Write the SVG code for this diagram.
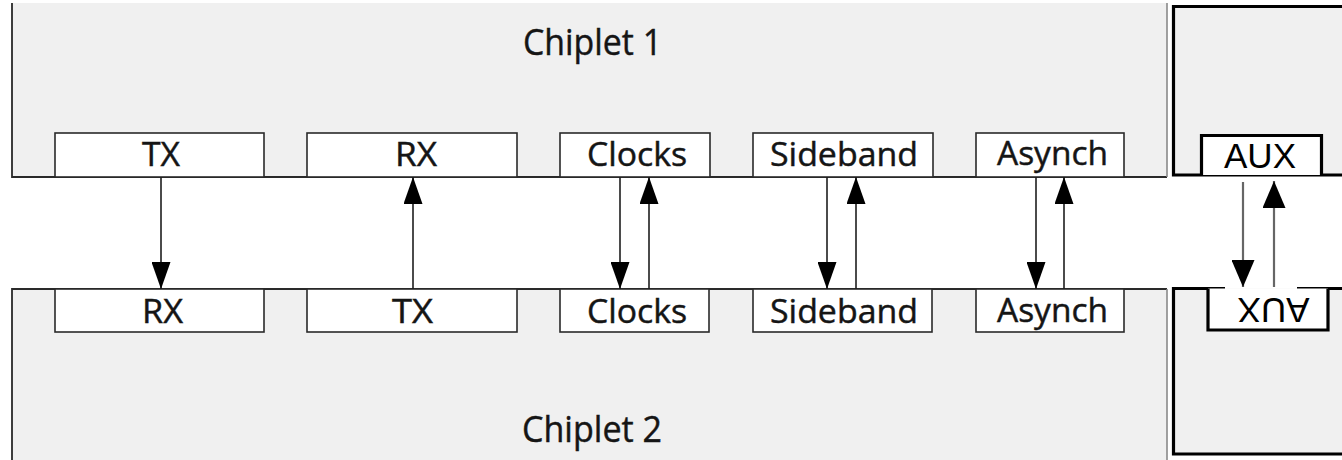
<svg xmlns="http://www.w3.org/2000/svg" width="1342" height="460" viewBox="0 0 1342 460">
  <style>
    .panel { fill: #f0f0f0; }
    .edge { fill: none; stroke: #2a2a2a; stroke-width: 1.8; }
    .seam { fill: none; stroke: #8a8a8a; stroke-width: 1.6; }
    .box { fill: #ffffff; stroke: #2a2a2a; stroke-width: 1.6; }
    .lbl { font-family: "Open Sans", "Noto Sans", sans-serif; font-size: 33px; fill: #151515; stroke: #151515; stroke-width: 0.45; text-anchor: middle; }
    .title { font-family: "Open Sans", "Noto Sans", sans-serif; font-size: 37px; fill: #151515; stroke: #151515; stroke-width: 0.45; text-anchor: middle; }
    .aux-panel { fill: #f0f0f0; }
    .heavy { fill: none; stroke: #000000; stroke-width: 3.2; }
    .aux-box { fill: #ffffff; }
    .aux-lbl { font-family: "Liberation Sans", Arial, sans-serif; font-size: 35px; fill: #000000; text-anchor: middle; }
    .wire { stroke: #1e1e1e; stroke-width: 1.6; fill: none; }
    .wire-aux { stroke: #666666; stroke-width: 2.2; fill: none; }
  </style>
  <defs>
    <marker id="head" markerUnits="userSpaceOnUse" markerWidth="27" markerHeight="19" refX="27" refY="9.5" orient="auto">
      <path d="M0,0 L27,9.5 L0,19 Z" fill="#000000"/>
    </marker>
    <marker id="head-aux" markerUnits="userSpaceOnUse" markerWidth="27" markerHeight="23" refX="27" refY="11.5" orient="auto">
      <path d="M0,0 L27,11.5 L0,23 Z" fill="#000000"/>
    </marker>
  </defs>

  <rect width="1342" height="460" fill="#ffffff"/>

  <!-- Chiplet 1 die -->
  <g id="chiplet1">
    <rect class="panel" x="12" y="3" width="1155" height="174"/>
    <path class="edge" d="M12,3 V177 H1167"/>
    <path class="seam" d="M1167,3 V177"/>
    <text class="title" x="592.5" y="55" textLength="139" lengthAdjust="spacingAndGlyphs">Chiplet 1</text>
  </g>

  <!-- Chiplet 2 die -->
  <g id="chiplet2">
    <rect class="panel" x="12" y="289" width="1155" height="171"/>
    <path class="edge" d="M12,460 V289 H1167"/>
    <path class="seam" d="M1167,289 V460"/>
    <text class="title" x="592" y="442" textLength="140" lengthAdjust="spacingAndGlyphs">Chiplet 2</text>
  </g>

  <!-- Chiplet 1 interface blocks -->
  <g id="c1-tx">
    <rect class="box" x="55" y="133" width="209" height="44"/>
    <text class="lbl" x="161" y="166" textLength="38" lengthAdjust="spacingAndGlyphs">TX</text>
  </g>
  <g id="c1-rx">
    <rect class="box" x="307" y="133" width="210" height="44"/>
    <text class="lbl" x="416" y="166" textLength="42" lengthAdjust="spacingAndGlyphs">RX</text>
  </g>
  <g id="c1-clocks">
    <rect class="box" x="560" y="133" width="150" height="44"/>
    <text class="lbl" x="637" y="166" textLength="100" lengthAdjust="spacingAndGlyphs">Clocks</text>
  </g>
  <g id="c1-sideband">
    <rect class="box" x="753" y="133" width="180" height="44"/>
    <text class="lbl" x="844" y="166" textLength="148" lengthAdjust="spacingAndGlyphs">Sideband</text>
  </g>
  <g id="c1-asynch">
    <rect class="box" x="976" y="133" width="148" height="44"/>
    <text class="lbl" x="1052.5" y="165" textLength="111" lengthAdjust="spacingAndGlyphs">Asynch</text>
  </g>

  <!-- Chiplet 2 interface blocks -->
  <g id="c2-rx">
    <rect class="box" x="55" y="289" width="209" height="43"/>
    <text class="lbl" x="162.5" y="323" textLength="41" lengthAdjust="spacingAndGlyphs">RX</text>
  </g>
  <g id="c2-tx">
    <rect class="box" x="307" y="289" width="210" height="43"/>
    <text class="lbl" x="412.5" y="323" textLength="41" lengthAdjust="spacingAndGlyphs">TX</text>
  </g>
  <g id="c2-clocks">
    <rect class="box" x="560" y="289" width="149" height="43"/>
    <text class="lbl" x="637" y="323" textLength="100" lengthAdjust="spacingAndGlyphs">Clocks</text>
  </g>
  <g id="c2-sideband">
    <rect class="box" x="753" y="289" width="179" height="43"/>
    <text class="lbl" x="844" y="323" textLength="148" lengthAdjust="spacingAndGlyphs">Sideband</text>
  </g>
  <g id="c2-asynch">
    <rect class="box" x="976" y="289" width="148" height="43"/>
    <text class="lbl" x="1052.5" y="322" textLength="111" lengthAdjust="spacingAndGlyphs">Asynch</text>
  </g>

  <!-- AUX side: upper die edge -->
  <g id="aux-top">
    <rect class="aux-panel" x="1173" y="6.5" width="172" height="168.5"/>
    <path class="heavy" d="M1345,6.5 H1173.5 V175 H1345"/>
    <rect class="aux-box" x="1201.5" y="135.5" width="120" height="39.5"/>
    <path class="heavy" d="M1201.5,175 V135.5 H1321.5 V175"/>
    <text class="aux-lbl" x="1260" y="168">AUX</text>
  </g>

  <!-- AUX side: lower die edge, mirrored -->
  <g id="aux-bottom">
    <rect class="aux-panel" x="1173" y="288.5" width="172" height="165.5"/>
    <path class="heavy" d="M1225,288.5 H1173.5 V454 H1345"/>
    <path class="heavy" d="M1297,288.5 H1345"/>
    <rect class="aux-box" x="1208" y="288.5" width="120" height="41.5"/>
    <path class="heavy" d="M1208,288.5 V330 H1328 V288.5"/>
    <text class="aux-lbl" x="1273.5" y="324" transform="rotate(180 1273.5 311)">AUX</text>
  </g>

  <!-- die-to-die signal connectors -->
  <g id="connectors">
    <line class="wire" x1="161" y1="177" x2="161" y2="289" marker-end="url(#head)"/>
    <line class="wire" x1="413" y1="289" x2="413" y2="177" marker-end="url(#head)"/>
    <line class="wire" x1="620" y1="177" x2="620" y2="289" marker-end="url(#head)"/>
    <line class="wire" x1="649" y1="289" x2="649" y2="177" marker-end="url(#head)"/>
    <line class="wire" x1="827" y1="177" x2="827" y2="289" marker-end="url(#head)"/>
    <line class="wire" x1="856" y1="289" x2="856" y2="177" marker-end="url(#head)"/>
    <line class="wire" x1="1036" y1="177" x2="1036" y2="289" marker-end="url(#head)"/>
    <line class="wire" x1="1064" y1="289" x2="1064" y2="177" marker-end="url(#head)"/>
    <line class="wire-aux" x1="1243" y1="182" x2="1243" y2="287" marker-end="url(#head-aux)"/>
    <line class="wire-aux" x1="1274" y1="287" x2="1274" y2="181" marker-end="url(#head-aux)"/>
  </g>
</svg>
